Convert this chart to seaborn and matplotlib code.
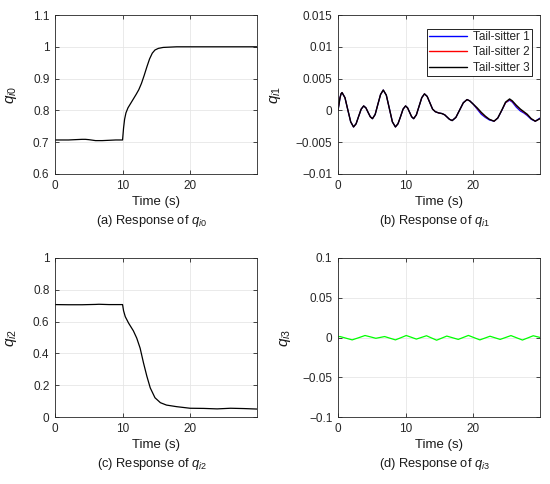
import numpy as np
import pandas as pd
import seaborn as sns
import matplotlib.pyplot as plt
from matplotlib.ticker import FixedLocator, FuncFormatter

# ---- q_i0 ----
t_q0 = [0, 1, 2, 3, 4, 4.5, 5, 6, 7, 8, 9, 10, 10.15, 10.3, 10.5, 10.8, 11.2, 11.6,
        12.0, 12.4, 12.8, 13.2, 13.6, 14.0, 14.4, 14.8, 15.3, 16.0, 17.0, 18.0,
        20.0, 22.0, 25.0, 28.0, 29.9]
q0 = [0.707, 0.707, 0.707, 0.708, 0.709, 0.709, 0.708, 0.705, 0.705, 0.706, 0.707,
      0.707, 0.745, 0.772, 0.792, 0.808, 0.822, 0.836, 0.850, 0.865, 0.885, 0.910,
      0.937, 0.962, 0.980, 0.990, 0.995, 0.998, 0.999, 1.0, 1.0, 1.0, 1.0, 1.0, 1.0]

# ---- q_i1 (three tail-sitters) ----
t_q1 = [0, 0.15, 0.3, 0.45, 0.6, 1.03, 1.45, 1.88, 2.3, 2.68, 3.05, 3.43, 3.8,
        4.13, 4.45, 4.78, 5.1, 5.5, 5.9, 6.3, 6.7, 7.15, 7.6, 8.05, 8.5, 8.88,
        9.25, 9.63, 10.0, 10.3, 10.6, 10.9, 11.2, 11.6, 12.0, 12.4, 12.8, 13.2,
        13.6, 14.0, 14.4, 14.9, 15.4, 15.8, 16.2, 16.5, 16.9, 17.45, 18.0, 18.55,
        19.1, 19.5, 20.0, 20.6, 21.2, 21.8, 22.4, 23.1, 23.65, 24.25, 24.8, 25.4,
        25.8, 26.4, 27.0, 27.5, 28.0, 28.6, 29.2, 29.9]
q1_ts3 = [0, 0.0010, 0.0020, 0.0026, 0.0028, 0.0020, 0.0001, -0.0018, -0.0026,
          -0.0021, -0.00095, 0.0002, 0.0007, 0.0004, -0.0003, -0.0010, -0.0013,
          -0.00064, 0.00095, 0.0025, 0.0032, 0.0024, 0.0003, -0.0018, -0.0026,
          -0.0021, -0.0010, 0.0002, 0.0007, 0.0004, -0.0003, -0.0010, -0.0013,
          -0.0007, 0.00065, 0.0020, 0.0026, 0.0022, 0.0012, 0.0002, -0.0002,
          -0.0004, -0.0005, -0.0007, -0.0011, -0.0014, -0.0016, -0.0011, 0.00005,
          0.0012, 0.0017, 0.0015, 0.0010, 0.0004, -0.0003, -0.0009, -0.0014,
          -0.0017, -0.0012, 0.00005, 0.0013, 0.0018, 0.0015, 0.0008, 0.0002,
          -0.0002, -0.0006, -0.0013, -0.0017, -0.0013]
# tail-sitters 1 and 2 drift apart only after t = 20 s
q1_ts1_tail = [0.0002, -0.0006, -0.0011, -0.0015, -0.0017, -0.0012, 0.0000, 0.0012,
               0.0016, 0.0013, 0.0005, -0.0001, -0.0004, -0.0008, -0.0014, -0.0017,
               -0.0012]
q1_ts2_tail = [0.0003, -0.0004, -0.0010, -0.0014, -0.0017, -0.0012, 0.00003, 0.0012,
               0.0017, 0.0014, 0.0007, 0.0001, -0.0003, -0.0007, -0.0013, -0.0017,
               -0.0013]
q1_ts1 = q1_ts3[:53] + q1_ts1_tail
q1_ts2 = q1_ts3[:53] + q1_ts2_tail

# ---- q_i2 ----
t_q2 = [0, 2, 4, 6, 6.5, 8, 10, 10.15, 10.4, 10.9, 11.6, 12.1, 12.6, 13.1, 13.6,
        14.1, 14.8, 15.6, 16.5, 18.0, 20.0, 22.0, 24.0, 26.0, 28.0, 29.9]
q2 = [0.707, 0.706, 0.706, 0.708, 0.709, 0.707, 0.707, 0.668, 0.631, 0.590, 0.542,
      0.496, 0.433, 0.340, 0.256, 0.183, 0.121, 0.090, 0.075, 0.065, 0.055, 0.054,
      0.051, 0.055, 0.053, 0.050]

# ---- q_i3 ----
t_q3 = [0, 0.3, 1.2, 2.1, 3.05, 4.0, 4.8, 5.6, 6.25, 6.9, 7.7, 8.5, 9.3, 10.1,
        10.85, 11.6, 12.35, 13.1, 13.85, 14.6, 15.35, 16.1, 16.95, 17.8, 18.55,
        19.3, 20.15, 21.0, 21.75, 22.5, 23.25, 24.0, 24.8, 25.6, 26.45, 27.3, 28.1,
        28.9, 29.9]
q3 = [0.0010, 0.0012, -0.0009, -0.0030, -0.0003, 0.0025, 0.0008, -0.0010, 0.0001,
      0.0012, -0.0009, -0.0030, -0.0003, 0.0025, 0.0003, -0.0020, 0.0001, 0.0022,
      -0.0006, -0.0034, -0.0008, 0.0018, -0.0003, -0.0024, 0.0001, 0.0026, -0.0002,
      -0.0030, -0.0007, 0.0016, -0.0004, -0.0024, 0.0000, 0.0024, -0.0004, -0.0032,
      -0.0005, 0.0022, 0.0001]

x_ticks = [0, 10, 20]
legend_labels = ["Tail-sitter 1", "Tail-sitter 2", "Tail-sitter 3"]

sns.set_theme(style="ticks")
plt.rcParams['font.family'] = ['Liberation Sans', 'DejaVu Sans']
plt.rcParams.update({
    "mathtext.fontset": "custom",
    "mathtext.it": "Liberation Sans:italic",
    "mathtext.rm": "Liberation Sans",
    "font.size": 8.5,
})

fig = plt.figure(figsize=(5.5, 4.84), dpi=100)
W, H = 550, 484


def make_ax(left, top, width=202, height=159):
    return fig.add_axes([left / W, 1 - (top + height) / H, width / W, height / H])


def fmt(v, _):
    s = "{:g}".format(round(v, 6))
    return "0" if s in ("0", "-0") else s.replace("-", "\u2212")


def style_ax(ax, ylim, yticks, ylabel, ylab_x, caption):
    ax.set_xlim(0, 29.9)
    ax.set_ylim(*ylim)
    ax.xaxis.set_major_locator(FixedLocator(x_ticks))
    ax.yaxis.set_major_locator(FixedLocator(yticks))
    ax.xaxis.set_major_formatter(FuncFormatter(fmt))
    ax.yaxis.set_major_formatter(FuncFormatter(fmt))
    ax.tick_params(direction="in", length=3, width=0.6, colors="0.15",
                   labelsize=8.5, top=True, right=True, pad=4)
    ax.grid(True, color="#e6e6e6", linewidth=0.6)
    ax.set_axisbelow(True)
    for sp in ax.spines.values():
        sp.set_color("0.15")
        sp.set_linewidth(0.6)
    ax.set_xlabel("Time (s)", fontsize=9.5, color="0.1")
    ax.xaxis.set_label_coords(0.5, -0.14)
    ax.set_ylabel(ylabel, fontsize=11, color="0.1")
    ax.yaxis.set_label_coords(ylab_x, 0.5)
    ax.text(0.48, -0.295, caption, transform=ax.transAxes, ha="center",
            va="center", fontsize=9.3, color="0.1")


lw = 0.9

ax_a = make_ax(55, 15)
sns.lineplot(x=t_q0, y=q0, ax=ax_a, color="black", linewidth=lw)
style_ax(ax_a, (0.6, 1.1), [0.6, 0.7, 0.8, 0.9, 1.0, 1.1], r"$q_{\mathit{i0}}$",
         -0.176, r"(a) Response of $q_{\mathit{i0}}$")

ax_b = make_ax(338, 15)
sns.lineplot(x=t_q1, y=q1_ts1, ax=ax_b, color="#0000ff", linewidth=0.9,
             label=legend_labels[0])
sns.lineplot(x=t_q1, y=q1_ts2, ax=ax_b, color="#ff0000", linewidth=0.6,
             label=legend_labels[1])
sns.lineplot(x=t_q1, y=q1_ts3, ax=ax_b, color="black", linewidth=1.0,
             label=legend_labels[2])
style_ax(ax_b, (-0.01, 0.015), [-0.01, -0.005, 0, 0.005, 0.01, 0.015],
         r"$q_{\mathit{i1}}$", -0.27, r"(b) Response of $q_{\mathit{i1}}$")
leg = ax_b.legend(loc="upper right", bbox_to_anchor=(0.96, 0.915),
                  fontsize=8.5, frameon=True, fancybox=False,
                  edgecolor="black", framealpha=1, handlelength=3.2,
                  labelspacing=0.3, borderaxespad=0, borderpad=0.2,
                  handletextpad=0.5)
leg.get_frame().set_linewidth(0.6)
for h in leg.get_lines():
    h.set_linewidth(1.0)

ax_c = make_ax(55, 258)
sns.lineplot(x=t_q2, y=q2, ax=ax_c, color="black", linewidth=lw)
style_ax(ax_c, (0, 1), [0, 0.2, 0.4, 0.6, 0.8, 1.0], r"$q_{\mathit{i2}}$",
         -0.18, r"(c) Response of $q_{\mathit{i2}}$")

ax_d = make_ax(338, 258)
sns.lineplot(x=t_q3, y=q3, ax=ax_d, color="#00ff00", linewidth=lw)
style_ax(ax_d, (-0.1, 0.1), [-0.1, -0.05, 0, 0.05, 0.1], r"$q_{\mathit{i3}}$",
         -0.223, r"(d) Response of $q_{\mathit{i3}}$")

fig.savefig("out.png", dpi=100)
